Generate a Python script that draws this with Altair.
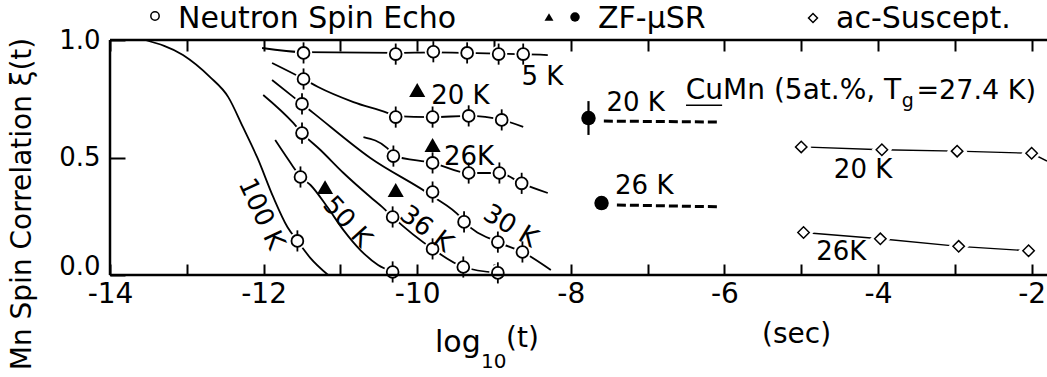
import altair as alt
import pandas as pd

FONT = "DejaVu Sans"

# ---------------- Neutron spin echo data points ----------------
nse_5K_x = [-11.48, -10.28, -9.79, -9.35, -8.94, -8.62]
nse_5K_y = [0.945, 0.940, 0.950, 0.945, 0.940, 0.940]
nse_20K_x = [-11.48, -10.28, -9.80, -9.33, -8.90]
nse_20K_y = [0.834, 0.672, 0.672, 0.677, 0.660]
nse_26K_x = [-10.31, -9.80, -9.33, -8.93, -8.64]
nse_26K_y = [0.506, 0.477, 0.434, 0.434, 0.390]
nse_30K_x = [-11.50, -9.80, -9.39, -8.95, -8.63]
nse_30K_y = [0.728, 0.353, 0.226, 0.140, 0.098]
nse_36K_x = [-11.50, -10.32, -9.80, -9.40, -8.95]
nse_36K_y = [0.604, 0.247, 0.111, 0.034, 0.009]
nse_50K_x = [-11.52, -10.32]
nse_50K_y = [0.417, 0.013]
nse_100K_x = [-11.56]
nse_100K_y = [0.145]
nse_err = 0.045

# ---------------- guide curves ----------------
cur_5K_x = [-12.02, -11.48, -10.28, -9.79, -9.35, -8.94, -8.62, -8.30]
cur_5K_y = [0.966, 0.948, 0.945, 0.947, 0.945, 0.942, 0.940, 0.936]
cur_20K_x = [-11.89, -11.48, -11.29, -10.83, -10.39, -10.28, -9.80, -9.33, -8.90, -8.62]
cur_20K_y = [0.902, 0.834, 0.800, 0.736, 0.690, 0.676, 0.672, 0.677, 0.660, 0.630]
cur_26K_x = [-10.70, -10.39, -10.31, -9.80, -9.33, -8.93, -8.64, -8.30]
cur_26K_y = [0.587, 0.540, 0.508, 0.477, 0.434, 0.434, 0.390, 0.349]
cur_30K_x = [-11.89, -11.61, -11.50, -11.35, -10.61, -9.80, -9.44, -9.385, -8.95, -8.63, -8.26]
cur_30K_y = [0.830, 0.757, 0.728, 0.689, 0.498, 0.335, 0.247, 0.226, 0.140, 0.098, 0.021]
cur_36K_x = [-12.005, -11.614, -11.50, -11.26, -10.96, -10.61, -10.454, -10.32, -9.80, -9.40, -8.95]
cur_36K_y = [0.766, 0.647, 0.604, 0.532, 0.434, 0.332, 0.289, 0.247, 0.111, 0.034, 0.009]
cur_50K_x = [-11.849, -11.614, -11.52, -11.39, -11.17, -10.96, -10.74, -10.51, -10.32]
cur_50K_y = [0.574, 0.460, 0.417, 0.383, 0.289, 0.191, 0.106, 0.043, 0.013]
cur_100K_x = [-13.54, -13.05, -12.70, -12.46, -12.27, -12.08, -11.875, -11.69, -11.56, -11.39, -11.16]
cur_100K_y = [1.000, 0.936, 0.843, 0.757, 0.630, 0.498, 0.332, 0.204, 0.145, 0.072, 0.000]

# ---------------- ZF-muSR ----------------
zf_tri_x = [-10.00, -9.80, -11.20, -10.28]
zf_tri_y = [0.787, 0.553, 0.374, 0.362]
zf_dot_x = [-7.77, -7.60]
zf_dot_y = [0.668, 0.306]
zf_dot_err = [0.072, 0.028]
zf_20K_dash_x = [-7.57, -6.07]
zf_20K_dash_y = [0.655, 0.651]
zf_26K_dash_x = [-7.40, -6.05]
zf_26K_dash_y = [0.298, 0.290]

# ---------------- ac susceptibility ----------------
ac_20K_x = [-5.00, -3.95, -2.97, -2.00]
ac_20K_y = [0.545, 0.533, 0.527, 0.518]
ac_20K_line_x = [-5.00, -3.95, -2.97, -2.00, -1.80]
ac_20K_line_y = [0.545, 0.533, 0.527, 0.518, 0.485]
ac_26K_x = [-4.97, -3.97, -2.95, -2.04]
ac_26K_y = [0.181, 0.154, 0.122, 0.103]

# ---------------- annotations ----------------
ann_text = ["5 K", "20 K", "26K", "20 K", "26 K", "20 K", "26K"]
ann_x = [-8.37, -9.437, -9.326, -7.155, -7.044, -4.195, -4.478]
ann_y = [0.843, 0.762, 0.504, 0.732, 0.379, 0.447, 0.098]
rot_text = ["100 K", "50 K", "36 K", "30 K"]
rot_x = [-12.03, -10.91, -9.88, -8.785]
rot_y = [0.26, 0.226, 0.196, 0.208]
rot_angle = [65, 48, 37, 31]

x_tick_values = list(range(-14, -1))
y_label_values = [0.0, 0.5, 1.0]

# ---------------- build tables ----------------
def table(xs_, ys_, name):
    return pd.DataFrame({"x": xs_, "y": ys_, "s": name})

curves = pd.concat([
    table(cur_5K_x, cur_5K_y, "5K"), table(cur_20K_x, cur_20K_y, "20K"),
    table(cur_26K_x, cur_26K_y, "26K"), table(cur_30K_x, cur_30K_y, "30K"),
    table(cur_36K_x, cur_36K_y, "36K"), table(cur_50K_x, cur_50K_y, "50K"),
    table(cur_100K_x, cur_100K_y, "100K"),
], ignore_index=True)
curves["o"] = range(len(curves))

nse = pd.concat([
    table(nse_5K_x, nse_5K_y, "5K"), table(nse_20K_x, nse_20K_y, "20K"),
    table(nse_26K_x, nse_26K_y, "26K"), table(nse_30K_x, nse_30K_y, "30K"),
    table(nse_36K_x, nse_36K_y, "36K"), table(nse_50K_x, nse_50K_y, "50K"),
    table(nse_100K_x, nse_100K_y, "100K"),
], ignore_index=True)
nse["lo"] = nse["y"] - nse_err
nse["hi"] = nse["y"] + nse_err

tri = pd.DataFrame({"x": zf_tri_x, "y": zf_tri_y})
dots = pd.DataFrame({"x": zf_dot_x, "y": zf_dot_y, "e": zf_dot_err})
dots["lo"] = dots["y"] - dots["e"]
dots["hi"] = dots["y"] + dots["e"]
dashes = pd.concat([table(zf_20K_dash_x, zf_20K_dash_y, "20K"),
                    table(zf_26K_dash_x, zf_26K_dash_y, "26K")], ignore_index=True)
ac_pts = pd.concat([table(ac_20K_x, ac_20K_y, "20K"), table(ac_26K_x, ac_26K_y, "26K")],
                   ignore_index=True)
ac_lines = pd.concat([table(ac_20K_line_x, ac_20K_line_y, "20K"),
                      table(ac_26K_x, ac_26K_y, "26K")], ignore_index=True)
ann = pd.DataFrame({"x": ann_x, "y": ann_y, "t": ann_text})
rot = pd.DataFrame({"x": rot_x, "y": rot_y, "t": rot_text, "a": rot_angle})

xs = alt.Scale(domain=[-14, -1.8], nice=False, zero=False)
ys = alt.Scale(domain=[0, 1], nice=False, zero=False)

# bottom axis: pulled 11 px inside so its ticks point inward; labels below the frame
x_axis = alt.Axis(orient="bottom", values=x_tick_values,
                  labelExpr="datum.value % 2 == 0 ? '' + datum.value : ''",
                  offset=-11, ticks=True, tickSize=11, tickWidth=2, tickColor="black",
                  grid=False, domain=False,
                  labelFont=FONT, labelFontSize=28, labelColor="black", labelPadding=5,
                  labelFlush=False, labelOverlap=False, title=None)
# top axis: ticks only, pointing inward
x_axis_top = alt.Axis(orient="top", values=x_tick_values, offset=-11, ticks=True, tickSize=11,
                      tickWidth=2, tickColor="black", labels=False, grid=False, domain=False,
                      title=None)
# left axis: pulled 15 px inside so the 0.5 tick points inward
y_axis = alt.Axis(orient="left", values=y_label_values, format=".1f", offset=-15, ticks=True,
                  tickSize=15, tickWidth=2, tickColor="black", grid=False, domain=False,
                  labelFont=FONT, labelFontSize=26, labelColor="black", labelPadding=10,
                  labelFlush=False, title=None,
                  labelOffset={"condition": {"test": "datum.value == 0", "value": -9}, "value": 0})


def X(f="x"):
    return alt.X(f"{f}:Q", scale=xs, axis=x_axis)


def Y(f="y"):
    return alt.Y(f"{f}:Q", scale=ys, axis=y_axis)


curve_layer = alt.Chart(curves).mark_line(interpolate="monotone", color="black", strokeWidth=1.8).encode(
    x=X(), y=Y(), detail="s:N", order="o:Q")

halo = alt.Chart(nse).mark_point(shape="circle", filled=True, fill="white", strokeWidth=0,
                                 size=300, opacity=1).encode(x=X(), y=Y())
ebar = alt.Chart(nse).mark_rule(color="black", strokeWidth=1.8).encode(x=X(), y=Y("lo"), y2="hi:Q")
circ = alt.Chart(nse).mark_point(shape="circle", filled=True, fill="white", stroke="black",
                                 strokeWidth=1.8, size=140, opacity=1).encode(x=X(), y=Y())

tri_layer = alt.Chart(tri).mark_point(shape="triangle-up", filled=True, color="black",
                                      size=260, opacity=1).encode(x=X(), y=Y())
dot_bar = alt.Chart(dots).mark_rule(color="black", strokeWidth=2.2).encode(x=X(), y=Y("lo"), y2="hi:Q")
dot_layer = alt.Chart(dots).mark_point(shape="circle", filled=True, color="black",
                                       size=210, opacity=1).encode(x=X(), y=Y())
dash_layer = alt.Chart(dashes).mark_line(color="black", strokeWidth=3, strokeDash=[9, 4]).encode(
    x=X(), y=Y(), detail="s:N")

ac_line_layer = alt.Chart(ac_lines).mark_line(color="black", strokeWidth=1.4).encode(
    x=X(), y=Y(), detail="s:N")
ac_halo = alt.Chart(ac_pts).mark_point(shape="diamond", filled=True, fill="white", strokeWidth=0,
                                       size=420, opacity=1).encode(x=X(), y=Y())
ac_layer = alt.Chart(ac_pts).mark_point(shape="diamond", filled=True, fill="white", stroke="black",
                                        strokeWidth=1.5, size=130, opacity=1).encode(x=X(), y=Y())

ann_layer = alt.Chart(ann).mark_text(font=FONT, fontSize=26, color="black", align="center",
                                     baseline="middle").encode(x=X(), y=Y(), text="t:N")
rot_layer = alt.Chart(rot).mark_text(font=FONT, fontSize=26, color="black", align="center",
                                     baseline="middle").encode(
    x=X(), y=Y(), text="t:N", angle=alt.Angle("a:Q", scale=None))

# CuMn (5at.%, Tg=27.4K) label
cumn_main = alt.Chart(pd.DataFrame({"x": [-6.503], "y": [0.783], "t": ["CuMn (5at.%, T"]})).mark_text(
    font=FONT, fontSize=28, color="black", align="left", baseline="middle").encode(x=X(), y=Y(), text="t:N")
cumn_sub = alt.Chart(pd.DataFrame({"x": [-3.69], "y": [0.742], "t": ["g"]})).mark_text(
    font=FONT, fontSize=19, color="black", align="left", baseline="middle").encode(x=X(), y=Y(), text="t:N")
cumn_end = alt.Chart(pd.DataFrame({"x": [-3.50], "y": [0.783], "t": ["=27.4 K)"]})).mark_text(
    font=FONT, fontSize=27, color="black", align="left", baseline="middle").encode(x=X(), y=Y(), text="t:N")
cu_underline = alt.Chart(pd.DataFrame({"x": [-6.50], "x2": [-6.03], "y": [0.722]})).mark_rule(
    color="black", strokeWidth=1.5).encode(x=X(), x2="x2:Q", y=Y())

# frame lines (top, bottom, left)
one = pd.DataFrame({"k": [0]})
top_line = alt.Chart(one).mark_rule(color="black", strokeWidth=2.5).encode(
    x=alt.value(0), x2=alt.value(937), y=alt.value(0))
bottom_line = alt.Chart(one).mark_rule(color="black", strokeWidth=2.5).encode(
    x=alt.value(0), x2=alt.value(937), y=alt.value(235))
left_line = alt.Chart(one).mark_rule(color="black", strokeWidth=2.5).encode(
    x=alt.value(0), y=alt.value(0), y2=alt.value(235))


def label(txt, x, y, size, align="left", baseline="alphabetic", angle=0):
    return alt.Chart(pd.DataFrame({"t": [txt]})).mark_text(
        font=FONT, fontSize=size, color="black", align=align, baseline=baseline, angle=angle
    ).encode(x=alt.value(x), y=alt.value(y), text="t:N")


def sym(shape, x, y, size, filled):
    if filled:
        m = alt.Chart(pd.DataFrame({"k": [0]})).mark_point(shape=shape, filled=True, color="black",
                                                          size=size, opacity=1)
    else:
        m = alt.Chart(pd.DataFrame({"k": [0]})).mark_point(shape=shape, filled=False, color="black",
                                                          strokeWidth=1.5, size=size, opacity=1)
    return m.encode(x=alt.value(x), y=alt.value(y))


legend = [
    sym("circle", 45, -24, 70, False),
    label("Neutron Spin Echo", 68, -12, 30),
    sym("triangle-up", 439, -23, 80, True),
    sym("circle", 465, -23, 90, True),
    label("ZF-μSR", 488, -12, 30),
    sym("diamond", 703, -22, 80, False),
    label("ac-Suscept.", 726, -12, 30),
]

titles = [
    label("log", 325, 312, 30),
    label("10", 371, 328, 20),
    label("(t)", 396, 307, 28),
    label("(sec)", 652, 303, 28),
    label("Mn Spin Correlation  ξ(t)", -87, 164, 28, align="center", baseline="middle", angle=270),
]

main = alt.layer(
    curve_layer, dash_layer, ac_line_layer,
    halo, ebar, circ,
    ac_halo, ac_layer,
    dot_bar, dot_layer, tri_layer,
    ann_layer, rot_layer, cumn_main, cumn_sub, cumn_end, cu_underline,
    top_line, bottom_line, left_line,
    *legend, *titles,
)

# invisible layer that only carries the top (inward-tick) axis
top_axis_layer = alt.Chart(pd.DataFrame({"x": [float(v) for v in x_tick_values], "y": 1.0})).mark_point(
    opacity=0).encode(x=alt.X("x:Q", scale=xs, axis=x_axis_top), y=Y())

chart = alt.layer(main, top_axis_layer).resolve_axis(x="independent").properties(
    width=937, height=235,
    padding={"left": 110, "top": 40, "right": 0, "bottom": 102},
    autosize=alt.AutoSizeParams(type="none"),
    background="white",
).configure_view(stroke=None)

chart.save("out.html", embed_options={"renderer": "svg", "actions": False})
